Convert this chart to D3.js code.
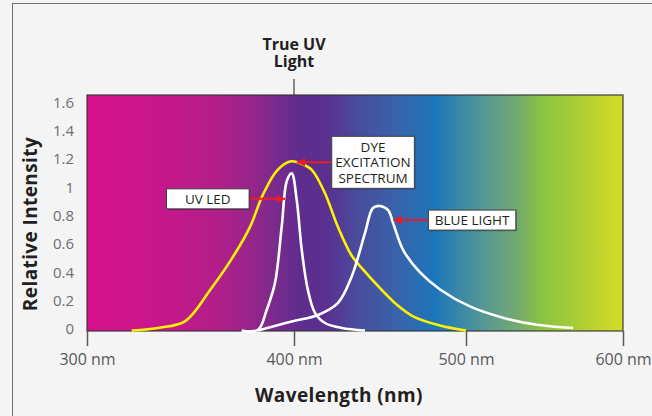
<!DOCTYPE html>
<html>
<head>
<meta charset="utf-8">
<script src="https://cdn.jsdelivr.net/npm/d3@7/dist/d3.min.js"></script>
<style>
  html, body { margin: 0; padding: 0; background: #f4f4f4; }
  svg { display: block; font-family: "Open Sans", sans-serif; }
</style>
</head>
<body>
<svg id="chart" width="652" height="416"></svg>
<script>
// axis ticks
const xTicks = [300, 400, 500, 600];
const yTicks = [0, 0.2, 0.4, 0.6, 0.8, 1, 1.2, 1.4, 1.6];

// dye excitation spectrum (yellow)
const dyeNm  = [321.6, 335, 347.3, 359.4, 370.5, 378.7, 385, 391.8, 398.5, 404, 410.3, 418, 425.6, 433.5, 441, 450, 460, 469.2, 484.9, 500];
const dyeVal = [0, 0.02, 0.065, 0.285, 0.52, 0.73, 0.96, 1.13, 1.195, 1.18, 1.135, 0.97, 0.73, 0.53, 0.42, 0.30, 0.18, 0.10, 0.035, 0];

// UV LED emission (white, narrow)
const ledNm  = [374.7, 382.6, 386.8, 390.8, 394.1, 396.6, 398.9, 401.6, 404.5, 408.1, 412.2, 418, 427.7, 441.3];
const ledVal = [0, 0.005, 0.145, 0.335, 0.74, 1.06, 1.11, 0.92, 0.57, 0.285, 0.125, 0.053, 0.018, 0];

// blue light emission (white, wide)
const blueNm  = [382.6, 398.9, 414, 425.6, 433.5, 441.3, 445.9, 450, 454.7, 457.6, 463.4, 473.3, 484.9, 502.5, 523.6, 545.2, 568.2];
const blueVal = [0, 0.064, 0.11, 0.195, 0.38, 0.69, 0.865, 0.88, 0.85, 0.76, 0.57, 0.41, 0.29, 0.17, 0.09, 0.04, 0.018];

// callouts: text lines and the point each arrow touches
const calloutText = [["UV LED"], ["DYE", "EXCITATION", "SPECTRUM"], ["BLUE LIGHT"]];
const calloutNm   = [395.7, 401.6, 457.8];
const calloutVal  = [0.93, 1.188, 0.78];

// spectrum background colour stops (wavelength, colour)
const bandNm    = [300, 332, 364.7, 377.8, 390.8, 403.5, 419.2, 435.5, 458.7, 482, 497.7, 514.6, 531.8, 549, 566.2, 582.8, 600];
const bandColor = ["#d6118b", "#c8168c", "#b01f8a", "#9a248b", "#7a2a8d", "#5e2d8e", "#5a3090", "#4a4a9c",
                   "#3a62a9", "#1c76bb", "#3e8aa5", "#5a9a8e", "#72a872", "#8cc440", "#a3cb38", "#bcd22f", "#d3de24"];

const svg = d3.select("#chart");

// the wavelength axis is not even in the original drawing
const x = d3.scaleLinear().domain(xTicks).range([87, 294, 466, 623]);
const y = d3.scaleLinear().domain([0, 1.6]).range([330.5, 104]);
const plotTop = 95, plotBottom = 331;

// outer frame
svg.append("rect")
    .attr("x", 12.5).attr("y", 3.5)
    .attr("width", 700).attr("height", 500)
    .attr("fill", "#f4f4f4")
    .attr("stroke", "#6d6e71");

// spectrum gradient
const grad = svg.append("defs").append("linearGradient")
    .attr("id", "spectrum")
    .attr("gradientUnits", "userSpaceOnUse")
    .attr("x1", x(300)).attr("x2", x(600))
    .attr("y1", 0).attr("y2", 0);
grad.selectAll("stop").data(bandNm).enter()
    .append("stop")
    .attr("offset", d => (x(d) - x(300)) / (x(600) - x(300)))
    .attr("stop-color", (d, i) => bandColor[i]);

svg.append("rect")
    .attr("x", x(300)).attr("y", plotTop)
    .attr("width", x(600) - x(300))
    .attr("height", plotBottom - plotTop)
    .attr("fill", "url(#spectrum)")
    .attr("stroke", "#333")
    .attr("stroke-opacity", 0.75)
    .attr("stroke-width", 1.5);

// x axis
const xAxis = svg.append("g")
    .attr("transform", "translate(0," + plotBottom + ")")
    .call(d3.axisBottom(x).tickValues(xTicks).tickFormat(d => d + " nm").tickSize(15).tickPadding(8));
xAxis.select(".domain").remove();
xAxis.selectAll("line").attr("stroke", "#58595b").attr("stroke-width", 1.5);
xAxis.selectAll("text")
    .attr("fill", "#58595b")
    .attr("font-size", "16px")
    .attr("font-family", "Open Sans, sans-serif");

// y axis (labels only)
const yAxis = svg.append("g")
    .attr("transform", "translate(" + x(300) + ",0)")
    .call(d3.axisLeft(y).tickValues(yTicks).tickFormat(d3.format("")).tickSize(0).tickPadding(13));
yAxis.select(".domain").remove();
yAxis.selectAll("text")
    .attr("fill", "#6d6e71")
    .attr("font-size", "15px")
    .attr("dy", "0.22em")
    .attr("font-family", "Open Sans, sans-serif");

// axis titles
svg.append("text")
    .attr("x", 339).attr("y", 402)
    .attr("text-anchor", "middle")
    .attr("font-size", "19px")
    .attr("font-weight", "bold")
    .attr("letter-spacing", "0.4px")
    .attr("fill", "#231f20")
    .text("Wavelength (nm)");

svg.append("text")
    .attr("transform", "translate(37,224) rotate(-90)")
    .attr("text-anchor", "middle")
    .attr("font-size", "19px")
    .attr("font-weight", "bold")
    .attr("letter-spacing", "0.4px")
    .attr("fill", "#231f20")
    .text("Relative Intensity");

// True UV marker above the plot
svg.append("line")
    .attr("x1", x(400)).attr("x2", x(400))
    .attr("y1", 79).attr("y2", plotTop)
    .attr("stroke", "#231f20");
svg.append("text")
    .attr("x", x(400)).attr("y", 50)
    .attr("text-anchor", "middle")
    .attr("font-size", "16px")
    .attr("font-weight", "bold")
    .attr("fill", "#231f20")
    .selectAll("tspan").data(["True UV", "Light"]).enter()
    .append("tspan")
    .attr("x", x(400))
    .attr("dy", (d, i) => i === 0 ? 0 : 17)
    .text(d => d);

// curves
const line = d3.line()
    .x(d => x(d[0]))
    .y(d => y(d[1]))
    .curve(d3.curveCatmullRom.alpha(0.5));

const series = [
    {nm: dyeNm,  val: dyeVal,  color: "#fff200"},
    {nm: ledNm,  val: ledVal,  color: "#ffffff"},
    {nm: blueNm, val: blueVal, color: "#ffffff"}
];
svg.selectAll("path.curve").data(series).enter()
    .append("path")
    .attr("class", "curve")
    .attr("fill", "none")
    .attr("stroke", d => d.color)
    .attr("stroke-width", 2.6)
    .attr("d", d => line(d.nm.map((n, i) => [n, d.val[i]])));

// callouts
svg.select("defs").append("marker")
    .attr("id", "arrow")
    .attr("viewBox", "0 0 10 10")
    .attr("refX", 10).attr("refY", 5)
    .attr("markerWidth", 4.2).attr("markerHeight", 4.2)
    .attr("markerUnits", "strokeWidth")
    .attr("orient", "auto")
    .append("path")
    .attr("d", "M0,0L10,5L0,10Z")
    .attr("fill", "#ed1c24");

// box layout relative to the arrow tip: side, gap, width
const boxSide  = ["left", "right", "right"];
const boxGap   = [36, 35, 35];
const boxW     = [82.6, 82.6, 87.4];
const lineH = 15.5;

calloutText.forEach((lines, i) => {
    const tx = x(calloutNm[i]), ty = y(calloutVal[i]);
    const h = lines.length === 1 ? 20 : 52;
    const bx = boxSide[i] === "left" ? tx - boxGap[i] - boxW[i] : tx + boxGap[i];
    const by = ty - h / 2;
    const ax = boxSide[i] === "left" ? bx + boxW[i] : bx;

    svg.append("line")
        .attr("x1", ax).attr("y1", ty)
        .attr("x2", tx).attr("y2", ty)
        .attr("stroke", "#ed1c24")
        .attr("stroke-width", 2)
        .attr("marker-end", "url(#arrow)");

    svg.append("rect")
        .attr("x", bx + 1.2).attr("y", by + 1.2)
        .attr("width", boxW[i]).attr("height", h)
        .attr("fill", "#000").attr("opacity", 0.25);
    svg.append("rect")
        .attr("x", bx).attr("y", by)
        .attr("width", boxW[i]).attr("height", h)
        .attr("fill", "#fff")
        .attr("stroke", "#414042")
        .attr("stroke-width", 1);

    svg.append("text")
        .attr("text-anchor", "middle")
        .attr("font-size", "13.5px")
        .attr("fill", "#231f20")
        .selectAll("tspan").data(lines).enter()
        .append("tspan")
        .attr("x", bx + boxW[i] / 2)
        .attr("y", (d, j) => by + h / 2 + (j - (lines.length - 1) / 2) * lineH + 5)
        .text(d => d);
});
</script>
</body>
</html>
